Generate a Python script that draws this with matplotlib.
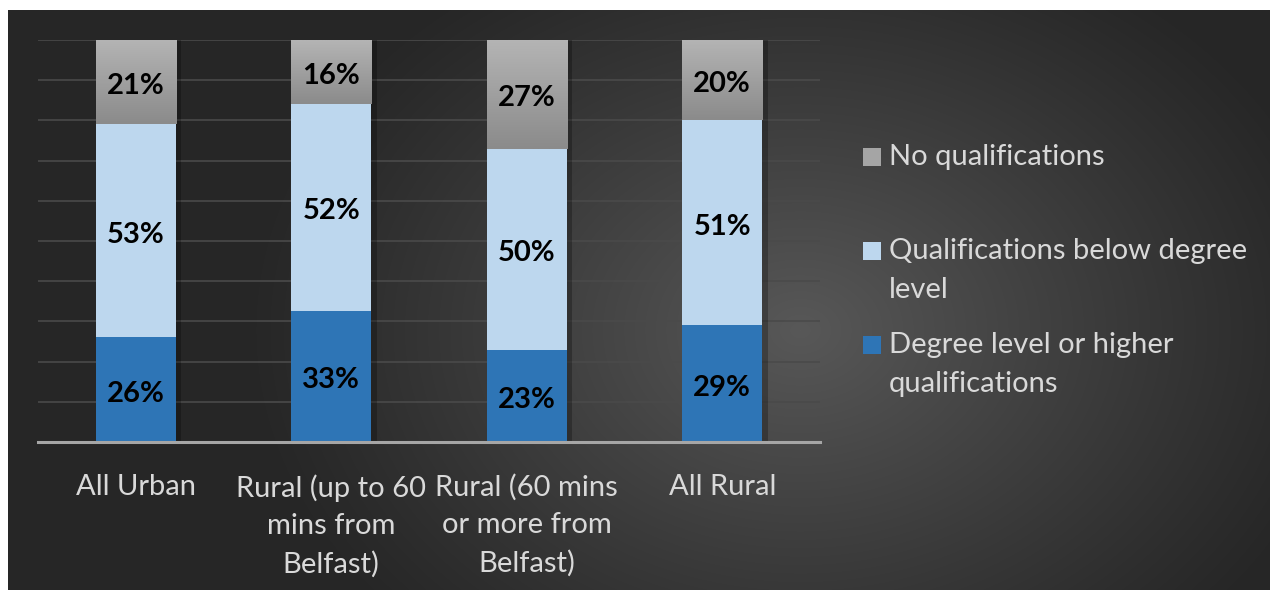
import matplotlib
matplotlib.use("Agg")
import matplotlib.pyplot as plt
import matplotlib.patheffects as pe
from matplotlib.patches import Rectangle
import numpy as np

plt.rcParams['font.family'] = ['Lato', 'DejaVu Sans']

# data
categories = ['All Urban', 'Rural (up to 60\nmins from\nBelfast)',
              'Rural (60 mins\nor more from\nBelfast)', 'All Rural']
degree = [26, 33, 23, 29]
below_degree = [53, 52, 50, 51]
no_quals = [21, 16, 27, 20]
series_names = ['No qualifications', 'Qualifications below degree\nlevel',
                'Degree level or higher\nqualifications']

c_degree = '#2E75B6'
c_below = '#BDD7EE'
c_none = '#A5A5A5'
txt_col = '#d9d9d9'

W, H = 1270, 590
fig = plt.figure(figsize=(W / 100, H / 100), dpi=100, facecolor='white')

# dark gradient background panel
bg = fig.add_axes([8 / W, 0, 1 - 8 / W, 580 / H])
bg.set_axis_off()
yy, xx = np.mgrid[10:590, 8:1270]
d = np.sqrt(((xx - 800) / 560.0) ** 2 + ((yy - 330) / 430.0) ** 2)
t = np.clip(1 - d, 0, 1) ** 1.1
dark, light = 0x26 / 255, 0x58 / 255
img = dark + (light - dark) * t
bg.imshow(np.dstack([img, img, img]), aspect='auto', extent=(0, 1, 0, 1))
bg.set_xlim(0, 1)
bg.set_ylim(0, 1)

ax = fig.add_axes([38 / W, 1 - 442 / H, (820 - 38) / W, (442 - 40) / H])
ax.set_facecolor('none')

# 100% stacked
deg = np.array(degree, float)
bel = np.array(below_degree, float)
non = np.array(no_quals, float)
tot = deg + bel + non
deg_n, bel_n, non_n = deg / tot * 100, bel / tot * 100, non / tot * 100

x = np.arange(len(categories))
bw = 0.41
shadow = [pe.SimplePatchShadow(offset=(4, 0), alpha=0.25, shadow_rgbFace='black'), pe.Normal()]
b1 = ax.bar(x, deg_n, bw, color=c_degree, zorder=3, path_effects=shadow)
b2 = ax.bar(x, bel_n, bw, bottom=deg_n, color=c_below, zorder=3, path_effects=shadow)
b3 = ax.bar(x, non_n, bw, bottom=deg_n + bel_n, color=c_none, zorder=3, path_effects=shadow)

# grey gradient on the top segments
grad = np.linspace(0x8b / 255, 0xb4 / 255, 64).reshape(-1, 1)
for p in b3.patches:
    x0, y0 = p.get_x(), p.get_y()
    im = ax.imshow(np.dstack([grad, grad, grad]), aspect='auto', origin='lower',
                   extent=(x0, x0 + p.get_width(), y0, y0 + p.get_height()), zorder=4)
    im.set_clip_path(p)

for bars, vals in [(b1, degree), (b2, below_degree), (b3, no_quals)]:
    for p, v in zip(bars.patches, vals):
        ax.annotate(f'{v}%', (p.get_x() + p.get_width() / 2, p.get_y() + p.get_height() / 2),
                    xytext=(0, -3), textcoords='offset points',
                    ha='center', va='center', fontsize=21, fontweight='bold',
                    color='black', zorder=6)

ax.set_xlim(-0.5, len(categories) - 0.5)
ax.set_ylim(0, 100)
ax.set_yticks(np.arange(0, 101, 10))
ax.yaxis.grid(True, color='#4a4a4a', linewidth=1.2)
ax.set_axisbelow(True)
ax.tick_params(axis='y', left=False, labelleft=False)
ax.tick_params(axis='x', length=0, pad=23, colors=txt_col, labelsize=21)
ax.set_xticks(x)
ax.set_xticklabels(categories, linespacing=1.54, va='top')
for s in ['top', 'right', 'left']:
    ax.spines[s].set_visible(False)
ax.spines['bottom'].set_color('#a6a6a6')
ax.spines['bottom'].set_linewidth(2.2)
ax.spines['bottom'].set_zorder(5)

# legend, laid out like the original (one text per line)
leg_items = [(c_none, series_names[0], 157, 165), (c_below, series_names[1], 251, 259),
             (c_degree, series_names[2], 345, 353)]
for col, label, ysq, ybase in leg_items:
    fig.patches.append(Rectangle((863 / W, 1 - (ysq + 9) / H), 18 / W, 18 / H,
                                 transform=fig.transFigure, facecolor=col, edgecolor='none'))
    for i, line in enumerate(label.split('\n')):
        fig.text(889 / W, 1 - (ybase + 39 * i) / H, line, color=txt_col, fontsize=21,
                 ha='left', va='baseline')

fig.savefig('out.png', dpi=100, facecolor='white')
